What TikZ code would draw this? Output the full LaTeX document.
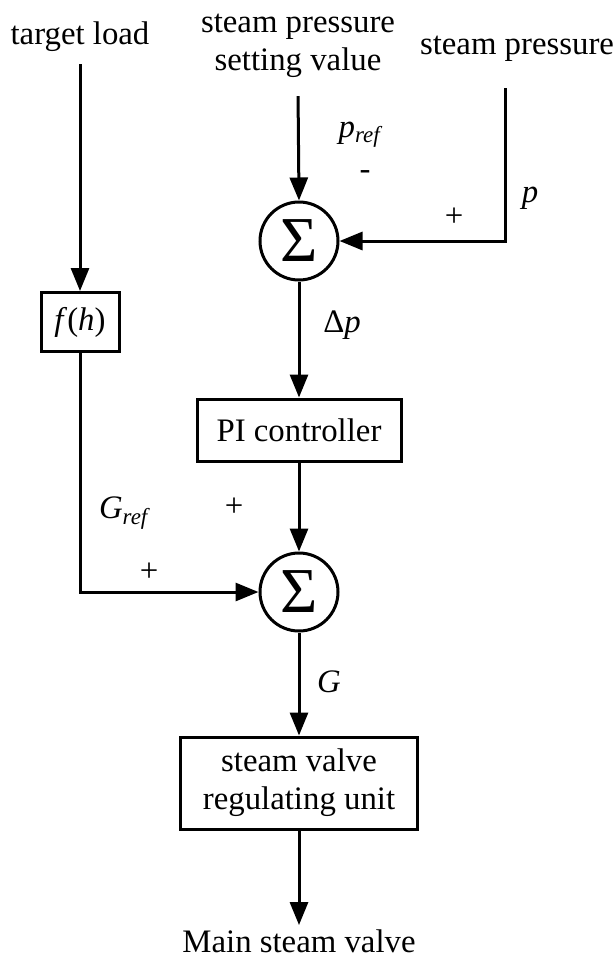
\documentclass[tikz,border=0pt]{standalone}
\usepackage{fontspec}
\setmainfont{Liberation Serif}
\usetikzlibrary{arrows.meta, positioning, calc}
\newcommand{\diagfont}{\fontsize{16.4}{19}\selectfont}
\tikzset{
  blockbox/.style={draw, line width=1.5pt, inner sep=2pt, align=center},
  sumnode/.style={draw, circle, line width=1.5pt, minimum size=39pt, inner sep=0pt,
    font=\fontsize{32}{32}\selectfont},
  sig/.style={-{Triangle[length=11.5pt, width=9pt]}, line width=1.5pt},
  txt/.style={inner sep=6pt, align=center},
  lbl/.style={inner sep=1pt},
}

\begin{document}
\begin{tikzpicture}[x=0.5pt, y=-0.5pt, font=\diagfont]
  \useasboundingbox (0,0) rectangle (615,960);
  % Input texts
  \node[txt] (target) at (80,37) {target load};
  \node[txt] (setval) at (298,46) {steam pressure\\setting value};
  \node[txt] (press) at (517,49) {steam pressure};
  \coordinate (ptop) at (505,88);
  % Blocks
  \node[sumnode] (sump) at (299,241) {Σ};
  \node[blockbox, minimum width=39pt, minimum height=29.5pt] (fh) at (80,322)
    {\textit{f}(\textit{h})};
  \node[blockbox, minimum width=102pt, minimum height=31pt] (pi) at (299,430)
    {PI controller};
  \node[sumnode] (sumg) at (299,592) {Σ};
  \node[blockbox, minimum width=118.5pt, minimum height=46pt] (valve) at (299,783)
    {steam valve\\regulating unit};
  \node[txt, inner sep=2pt] (mainvalve) at (299,941) {Main steam valve};
  % Signal lines
  \draw[sig] (target.south) -- (fh.north);
  \draw[sig, shorten <=3pt] (setval.south) -- (sump.north);
  \draw[sig] (ptop) |- (sump.east);
  \draw[sig] (sump.south) -- (pi.north);
  \draw[sig] (fh.south) |- (sumg.west);
  \draw[sig] (pi.south) -- (sumg.north);
  \draw[sig] (sumg.south) -- (valve.north);
  \draw[sig] (valve.south) -- (mainvalve.north);
  % Signal labels and signs
  \node[lbl] (pref) at (361,135) {\textit{p}\textsubscript{\textit{ref}}};
  \node[lbl] (minus) at (365,175) {-};
  \node[lbl] (plusp) at (454,217) {+};
  \node[lbl] (plab) at (530,198) {\textit{p}};
  \node[lbl] (dp) at (342,325) {Δ\textit{p}};
  \node[lbl] (plusu) at (234,507) {+};
  \node[lbl] (gref) at (125,513) {\textit{G}\textsubscript{\textit{ref}}};
  \node[lbl] (plusl) at (149,572) {+};
  \node[lbl] (glab) at (329,682) {\textit{G}};
\end{tikzpicture}
\end{document}
